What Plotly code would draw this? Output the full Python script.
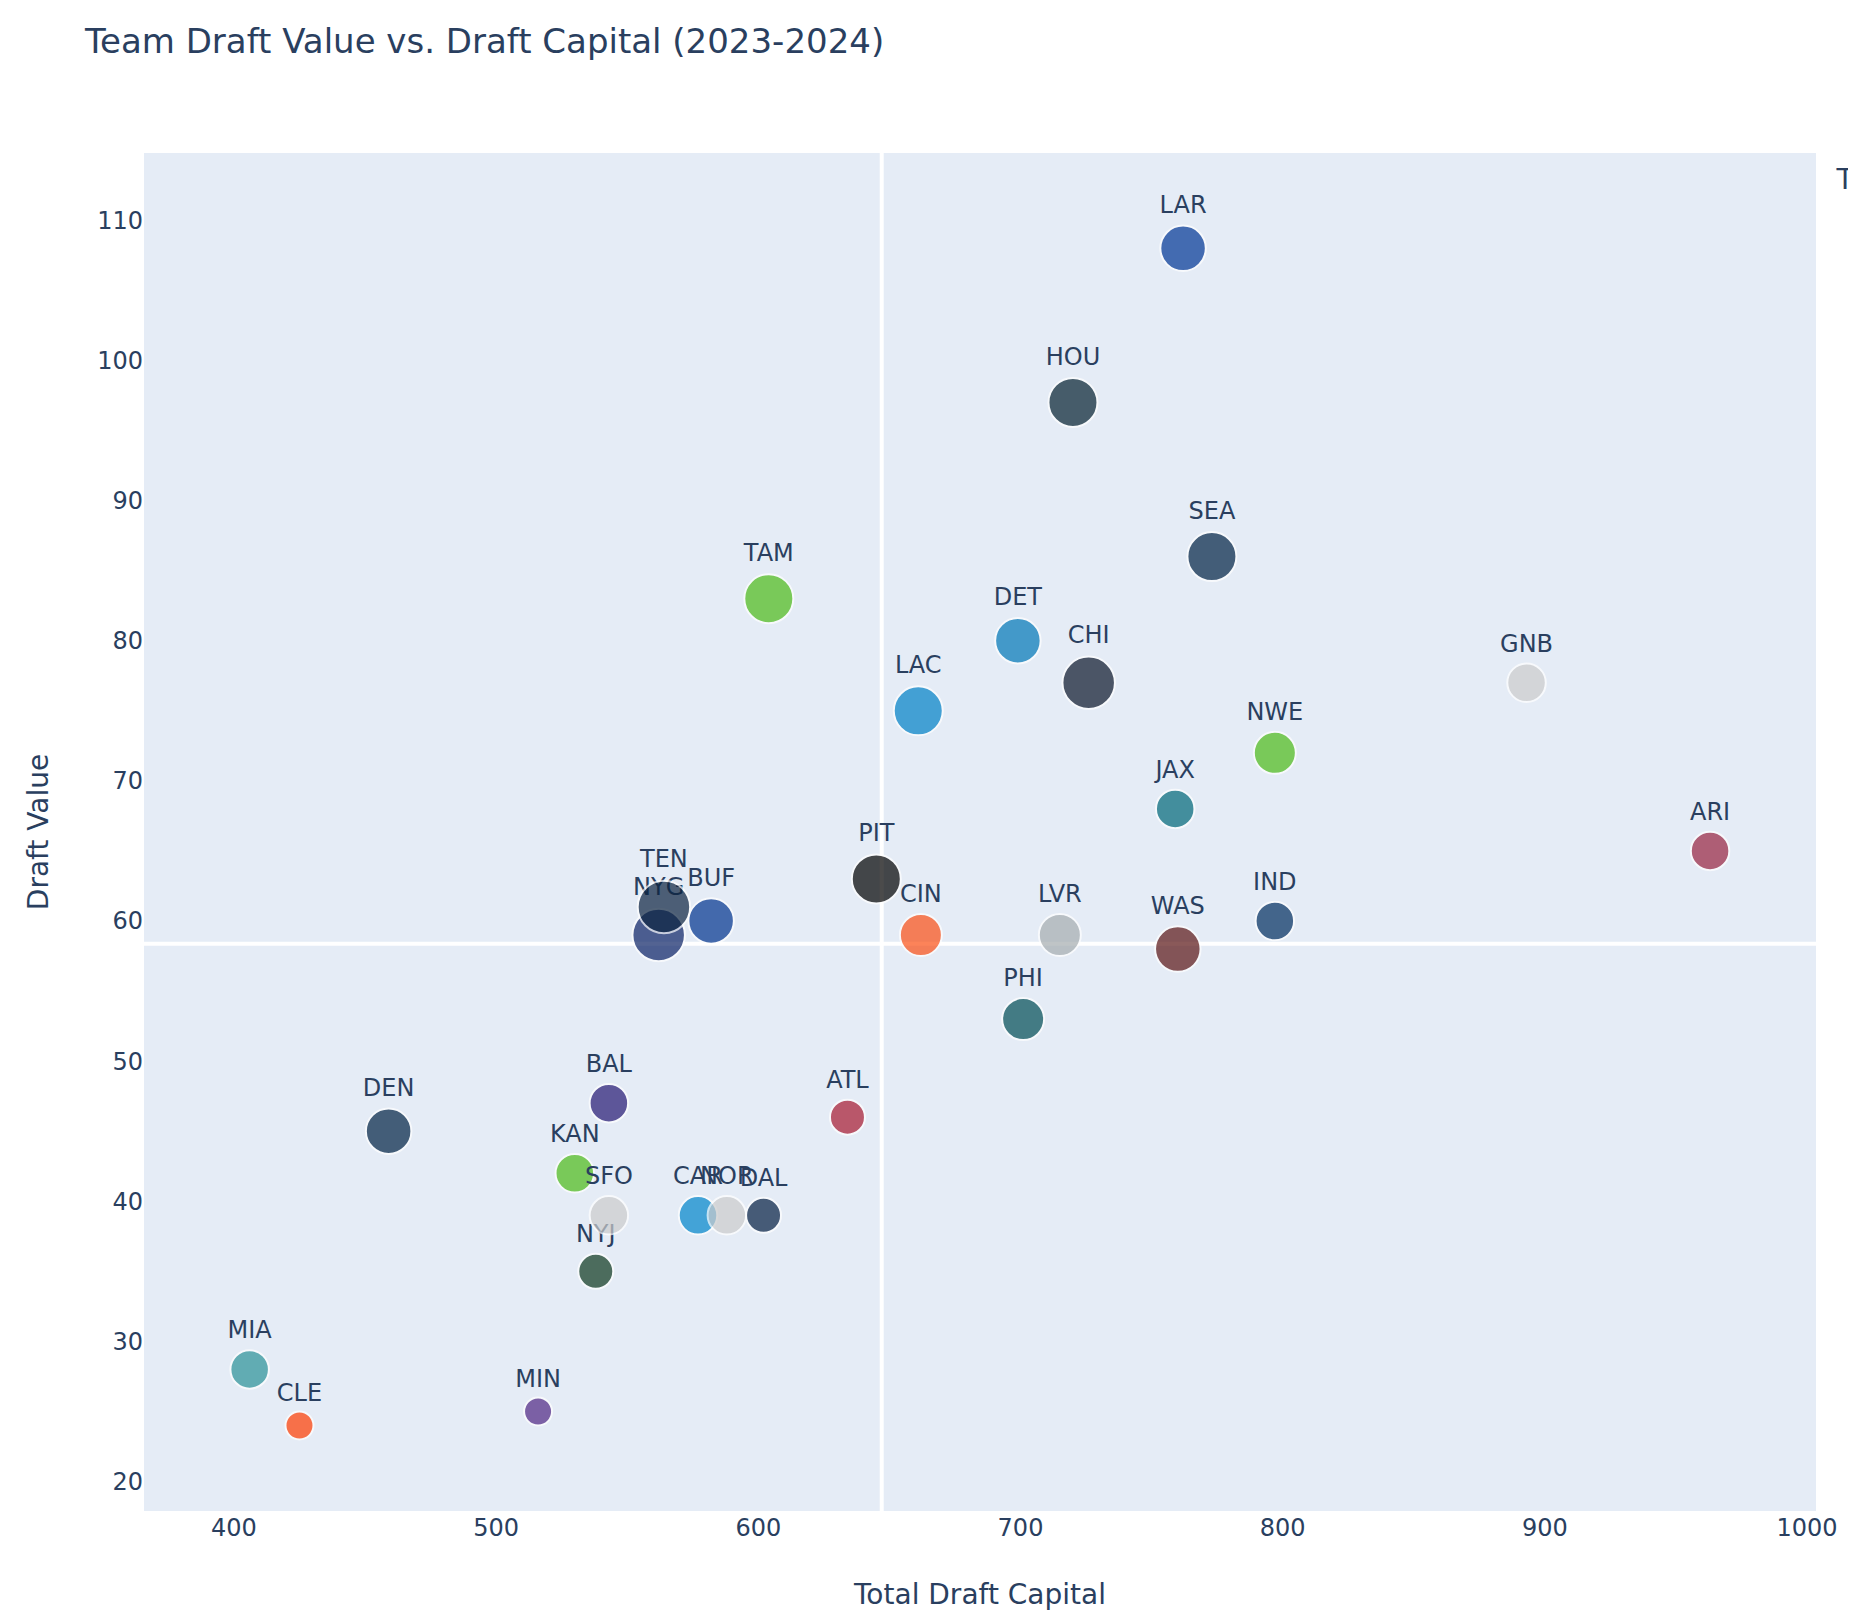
import plotly.graph_objects as go

teams = ["ARI", "ATL", "BAL", "BUF", "CAR", "CHI", "CIN", "CLE", "DAL", "DEN", "DET",
         "GNB", "HOU", "IND", "JAX", "KAN", "LAC", "LAR", "LVR", "MIA", "MIN", "NOR",
         "NWE", "NYG", "NYJ", "PHI", "PIT", "SEA", "SFO", "TAM", "TEN", "WAS"]
draft_capital = [963, 634, 543, 582, 577, 726, 662, 425, 602, 459, 699,
                 893, 720, 797, 759, 530, 661, 762, 715, 406, 516, 588,
                 797, 562, 538, 701, 645, 773, 543, 604, 564, 760]
draft_value = [65, 46, 47, 60, 39, 77, 59, 24, 39, 45, 80,
               77, 97, 60, 68, 42, 75, 108, 59, 28, 25, 39,
               72, 59, 35, 53, 63, 86, 39, 83, 61, 58]
num_picks = [11, 10, 11, 13, 11, 15, 12, 8, 10, 13, 13,
             11, 14, 11, 11, 11, 14, 13, 12, 11, 8, 11,
             12, 15, 10, 12, 14, 14, 11, 14, 15, 13]

team_colors = {
    "ARI": "#97233F", "ATL": "#A71930", "BAL": "#241773", "BUF": "#00338D",
    "CAR": "#0085CA", "CHI": "#0B162A", "CIN": "#FB4F14", "CLE": "#FF3C00",
    "DAL": "#041E42", "DEN": "#002244", "DET": "#0076B6", "GNB": "#CCCCCC",
    "HOU": "#03202F", "IND": "#002C5F", "JAX": "#006778", "KAN": "#4CBB17",
    "LAC": "#0080C6", "LAR": "#003594", "LVR": "#A5ACAF", "MIA": "#2A9198",
    "MIN": "#4F2683", "NOR": "#CCCCCC", "NWE": "#4CBB17", "NYG": "#0B2265",
    "NYJ": "#0C371D", "PHI": "#004C54", "PIT": "#000000", "SEA": "#002244",
    "SFO": "#CCCCCC", "TAM": "#4CBB17", "TEN": "#0C2340", "WAS": "#5A1414",
}

FONT = "Verdana, DejaVu Sans, sans-serif"
fig = go.Figure()
for i, t in enumerate(teams):
    fig.add_trace(go.Scatter(
        x=[draft_capital[i]], y=[draft_value[i]],
        mode="markers+text", name=t, text=[t], textposition="top center",
        textfont=dict(size=24, color="#2a3f5f"),
        marker=dict(size=num_picks[i] * 3.5, color=team_colors[t], opacity=0.7,
                    line=dict(color="white", width=2)),
    ))

mean_x = sum(draft_capital) / len(draft_capital)
mean_y = sum(draft_value) / len(draft_value)
fig.add_hline(y=mean_y, line_color="white", line_width=4, layer="below")
fig.add_vline(x=mean_x, line_color="white", line_width=4, layer="below")

fig.update_layout(
    width=1856, height=1614,
    margin=dict(l=136, r=48, t=145, b=111, autoexpand=False),
    font=dict(family=FONT, size=24, color="#2a3f5f"),
    title=dict(text="Team Draft Value vs. Draft Capital (2023-2024)",
               font=dict(size=34), x=77 / 1856, xanchor="left", xref="container",
               y=1 - 33 / 1614, yanchor="middle"),
    plot_bgcolor="#E5ECF6", paper_bgcolor="white",
    legend=dict(title=dict(text="Team", font=dict(size=28)), x=1.011, y=1,
                xanchor="left", yanchor="top", font=dict(size=24), indentation=40),
    xaxis=dict(title=dict(text="Total Draft Capital", font=dict(size=28), standoff=43),
               range=[365.7, 1003.4], dtick=100, showgrid=False, zeroline=False,
               tickfont=dict(size=24)),
    yaxis=dict(title=dict(text="Draft Value", font=dict(size=28), standoff=40),
               range=[17.9, 114.8], dtick=10, showgrid=False, zeroline=False,
               tickfont=dict(size=24)),
)

fig.write_html("out.html")
